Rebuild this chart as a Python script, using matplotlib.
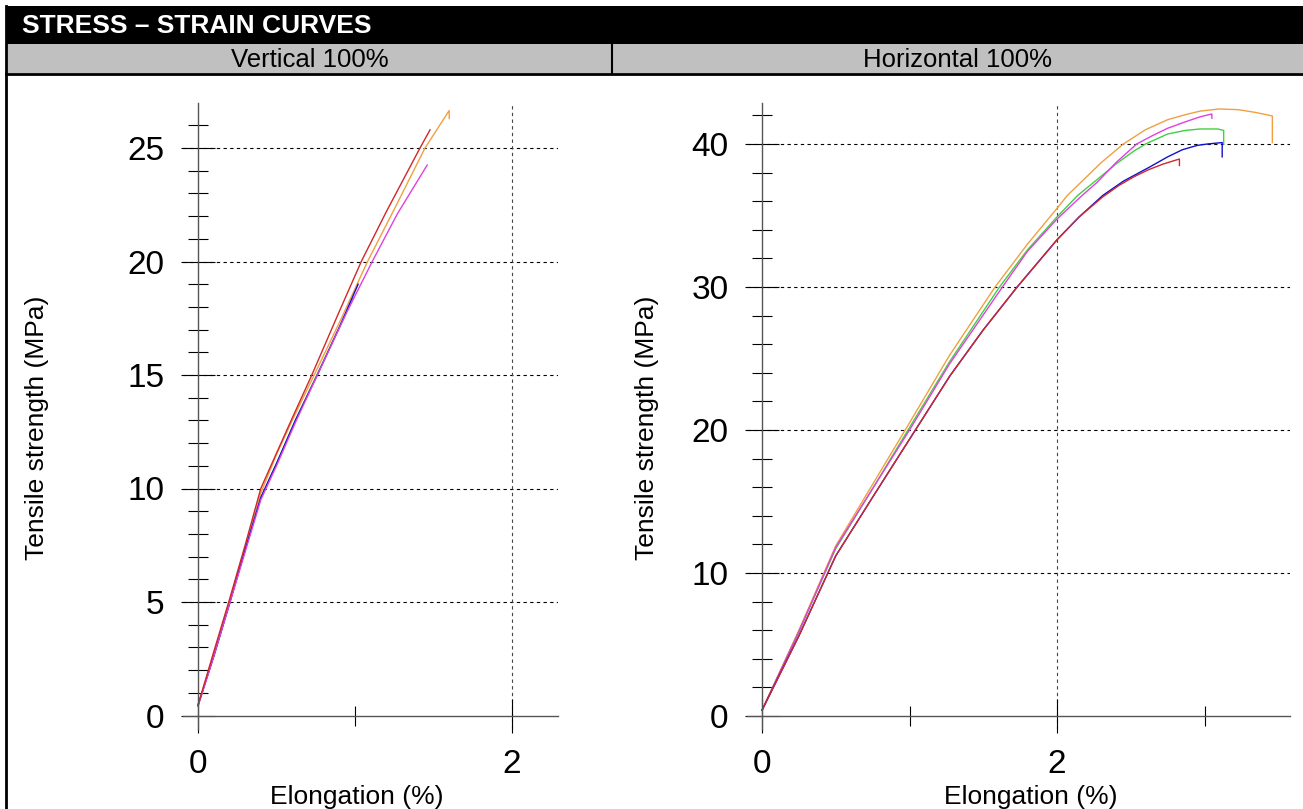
import matplotlib
matplotlib.use("Agg")
import matplotlib.pyplot as plt
from matplotlib.patches import Rectangle
from matplotlib.lines import Line2D

plt.rcParams['font.family'] = ['Liberation Sans', 'DejaVu Sans']

# ---------------- data ----------------
title = "STRESS – STRAIN CURVES"
panel_titles = ["Vertical 100%", "Horizontal 100%"]
xlabel = "Elongation (%)"
ylabel = "Tensile strength (MPa)"

colors = {"orange": "#f0a040", "green": "#40d040", "magenta": "#e040e0",
          "blue": "#1010d0", "red": "#d02828"}

# Vertical 100%
v_orange_x = [0, 0.1, 0.2, 0.3, 0.4, 0.5, 0.6, 0.74, 0.9, 1.08, 1.25, 1.446, 1.6, 1.6]
v_orange_y = [0.45, 2.7, 5.0, 7.4, 9.8, 11.5, 13.0, 15.0, 17.3, 20.0, 22.3, 25.0, 26.65, 26.3]
v_green_x = [0, 0.1, 0.2, 0.3, 0.4, 0.5, 0.62, 0.75, 0.88, 0.99]
v_green_y = [0.45, 2.6, 4.95, 7.3, 9.6, 11.1, 13.0, 14.9, 16.8, 18.4]
v_blue_x = [0, 0.1, 0.2, 0.3, 0.4, 0.5, 0.62, 0.76, 0.9, 1.02]
v_blue_y = [0.45, 2.6, 4.9, 7.3, 9.6, 11.1, 13.0, 15.0, 17.1, 19.0]
v_magenta_x = [0, 0.1, 0.2, 0.3, 0.4, 0.5, 0.62, 0.76, 0.95, 1.11, 1.27, 1.46]
v_magenta_y = [0.4, 2.6, 4.9, 7.2, 9.5, 11.0, 12.9, 15.0, 17.8, 20.0, 22.1, 24.25]
v_red_x = [0, 0.1, 0.2, 0.3, 0.4, 0.49, 0.6, 0.725, 0.9, 1.04, 1.2, 1.414, 1.478]
v_red_y = [0.45, 2.8, 5.1, 7.5, 10.0, 11.4, 13.1, 15.0, 17.8, 20.0, 22.2, 25.0, 25.8]

# Horizontal 100%
h_orange_x = [0, 0.25, 0.5, 0.75, 1.0, 1.27, 1.58, 1.8, 2.0, 2.07, 2.18, 2.3, 2.45,
              2.6, 2.75, 2.87, 2.97, 3.1, 3.23, 3.35, 3.46, 3.46]
h_orange_y = [0.4, 6.0, 11.9, 16.2, 20.5, 25.2, 30.0, 33.0, 35.5, 36.4, 37.5, 38.7, 40.0,
              41.0, 41.7, 42.05, 42.3, 42.45, 42.4, 42.2, 41.96, 40.1]
h_green_x = [0, 0.25, 0.5, 0.75, 0.99, 1.27, 1.61, 1.8, 2.0, 2.14, 2.27, 2.4, 2.52,
             2.6, 2.75, 2.87, 2.97, 3.09, 3.13, 3.13]
h_green_y = [0.4, 5.9, 11.7, 15.9, 20.0, 24.75, 30.0, 32.6, 34.9, 36.4, 37.5, 38.6, 39.5,
             40.0, 40.7, 40.95, 41.05, 41.05, 40.95, 40.0]
h_magenta_x = [0, 0.25, 0.5, 0.75, 1.0, 1.27, 1.63, 1.8, 2.0, 2.17, 2.27, 2.4, 2.54,
               2.65, 2.75, 2.87, 2.97, 3.05, 3.05]
h_magenta_y = [0.4, 5.9, 11.8, 15.9, 20.0, 24.6, 30.0, 32.5, 34.75, 36.4, 37.3, 38.7, 40.0,
               40.6, 41.1, 41.55, 41.9, 42.1, 41.8]
h_blue_x = [0, 0.25, 0.5, 0.75, 1.04, 1.275, 1.5, 1.73, 2.0, 2.15, 2.31, 2.45, 2.63,
            2.75, 2.85, 2.95, 3.02, 3.12, 3.12]
h_blue_y = [0.4, 5.6, 11.2, 15.3, 20.0, 23.8, 27.0, 30.0, 33.3, 34.9, 36.4, 37.4, 38.4,
            39.1, 39.6, 39.9, 40.0, 40.1, 39.1]
h_red_x = [0, 0.25, 0.5, 0.75, 1.04, 1.275, 1.5, 1.73, 2.0, 2.15, 2.31, 2.42, 2.52,
           2.62, 2.72, 2.83, 2.83]
h_red_y = [0.4, 5.6, 11.2, 15.3, 20.0, 23.8, 27.0, 30.0, 33.3, 34.9, 36.3, 37.1, 37.7,
           38.2, 38.6, 38.95, 38.5]

v_series = [("orange", v_orange_x, v_orange_y), ("green", v_green_x, v_green_y),
            ("blue", v_blue_x, v_blue_y), ("magenta", v_magenta_x, v_magenta_y),
            ("red", v_red_x, v_red_y)]
h_series = [("orange", h_orange_x, h_orange_y), ("green", h_green_x, h_green_y),
            ("magenta", h_magenta_x, h_magenta_y), ("blue", h_blue_x, h_blue_y),
            ("red", h_red_x, h_red_y)]

v_major_y = [0, 5, 10, 15, 20, 25]
v_minor_y = list(range(0, 27))
h_major_y = [0, 10, 20, 30, 40]
h_minor_y = list(range(0, 43, 2))
v_major_x = [0, 2]
v_minor_x = [1]
h_major_x = [0, 2]
h_minor_x = [1, 3]

# ---------------- figure ----------------
W, H = 1303, 809
fig = plt.figure(figsize=(W / 100, H / 100), dpi=100)


def px_axes(x0, x1, y0, y1):
    return fig.add_axes([x0 / W, 1 - y1 / H, (x1 - x0) / W, (y1 - y0) / H])


def frect(x0, y0, x1, y1, **kw):
    fig.patches.append(Rectangle((x0 / W, 1 - y1 / H), (x1 - x0) / W, (y1 - y0) / H,
                                 transform=fig.transFigure, **kw))


def fline(xs, ys, **kw):
    fig.lines.append(Line2D([x / W for x in xs], [1 - y / H for y in ys],
                            transform=fig.transFigure, **kw))


# header
frect(6, 6, W + 5, 44, facecolor="black", edgecolor="none")
frect(6, 44, W + 5, 73, facecolor="#c0c0c0", edgecolor="none")
fline([6, W], [74, 74], color="black", lw=2)
fline([6, 6], [6, H], color="black", lw=2)
fline([612, 612], [44, 74], color="black", lw=1.5)
fig.text(22 / W, 1 - 26 / H, title, color="white", fontsize=19, fontweight="bold",
         ha="left", va="center")
fig.text(310 / W, 1 - 60 / H, panel_titles[0], color="black", fontsize=18.5,
         ha="center", va="center")
fig.text(958 / W, 1 - 60 / H, panel_titles[1], color="black", fontsize=18.5,
         ha="center", va="center")


def style_axes(ax, xlim, ylim, major_x, minor_x, major_y, minor_y):
    ax.set_xlim(*xlim)
    ax.set_ylim(*ylim)
    for s in ["top", "right"]:
        ax.spines[s].set_visible(False)
    for s in ["left", "bottom"]:
        ax.spines[s].set_position(("data", 0))
        ax.spines[s].set_color("#555555")
        ax.spines[s].set_linewidth(1.0)
    ax.set_xticks(major_x)
    ax.set_xticks(minor_x, minor=True)
    ax.set_yticks(major_y)
    ax.set_yticks(minor_y, minor=True)
    ax.set_xticklabels([str(v) for v in major_x])
    ax.set_yticklabels([str(v) for v in major_y])
    ax.tick_params(which="major", direction="inout", length=24, width=0.8,
                   color="black", labelsize=24, pad=12)
    ax.tick_params(which="minor", direction="inout", length=14, width=0.8,
                   color="black")
    # dashed grid lines (not at zero)
    for yv in major_y:
        if yv != 0:
            ax.axhline(yv, color="black", lw=0.8, ls=(0, (3, 3)), zorder=0.5)
    for xv in major_x:
        if xv != 0:
            ax.axvline(xv, color="#444444", lw=0.8, ls=(0, (3, 3)), zorder=0.5)
    ax.set_facecolor("none")


ax1 = px_axes(183, 558, 103, 729)
style_axes(ax1, (-15 / 157, 360 / 157), ((715.5 - 729) / 22.7, (715.5 - 103) / 22.7),
           v_major_x, v_minor_x, v_major_y, v_minor_y)
for name, xs, ys in v_series:
    ax1.plot(xs, ys, color=colors[name], lw=1.0, zorder=2)

ax2 = px_axes(747, 1290, 103, 729)
style_axes(ax2, (-15 / 147.5, 528 / 147.5), (-13 / 14.3, 613 / 14.3),
           h_major_x, h_minor_x, h_major_y, h_minor_y)
for name, xs, ys in h_series:
    ax2.plot(xs, ys, color=colors[name], lw=1.0, zorder=2)

# axis labels
fig.text(37 / W, 1 - 428 / H, ylabel, rotation=90, fontsize=19, ha="center", va="center")
fig.text(647 / W, 1 - 428 / H, ylabel, rotation=90, fontsize=19, ha="center", va="center")
fig.text(357 / W, 1 - 797 / H, xlabel, fontsize=19, ha="center", va="center")
fig.text(1031 / W, 1 - 797 / H, xlabel, fontsize=19, ha="center", va="center")

fig.savefig("out.png", dpi=100)
